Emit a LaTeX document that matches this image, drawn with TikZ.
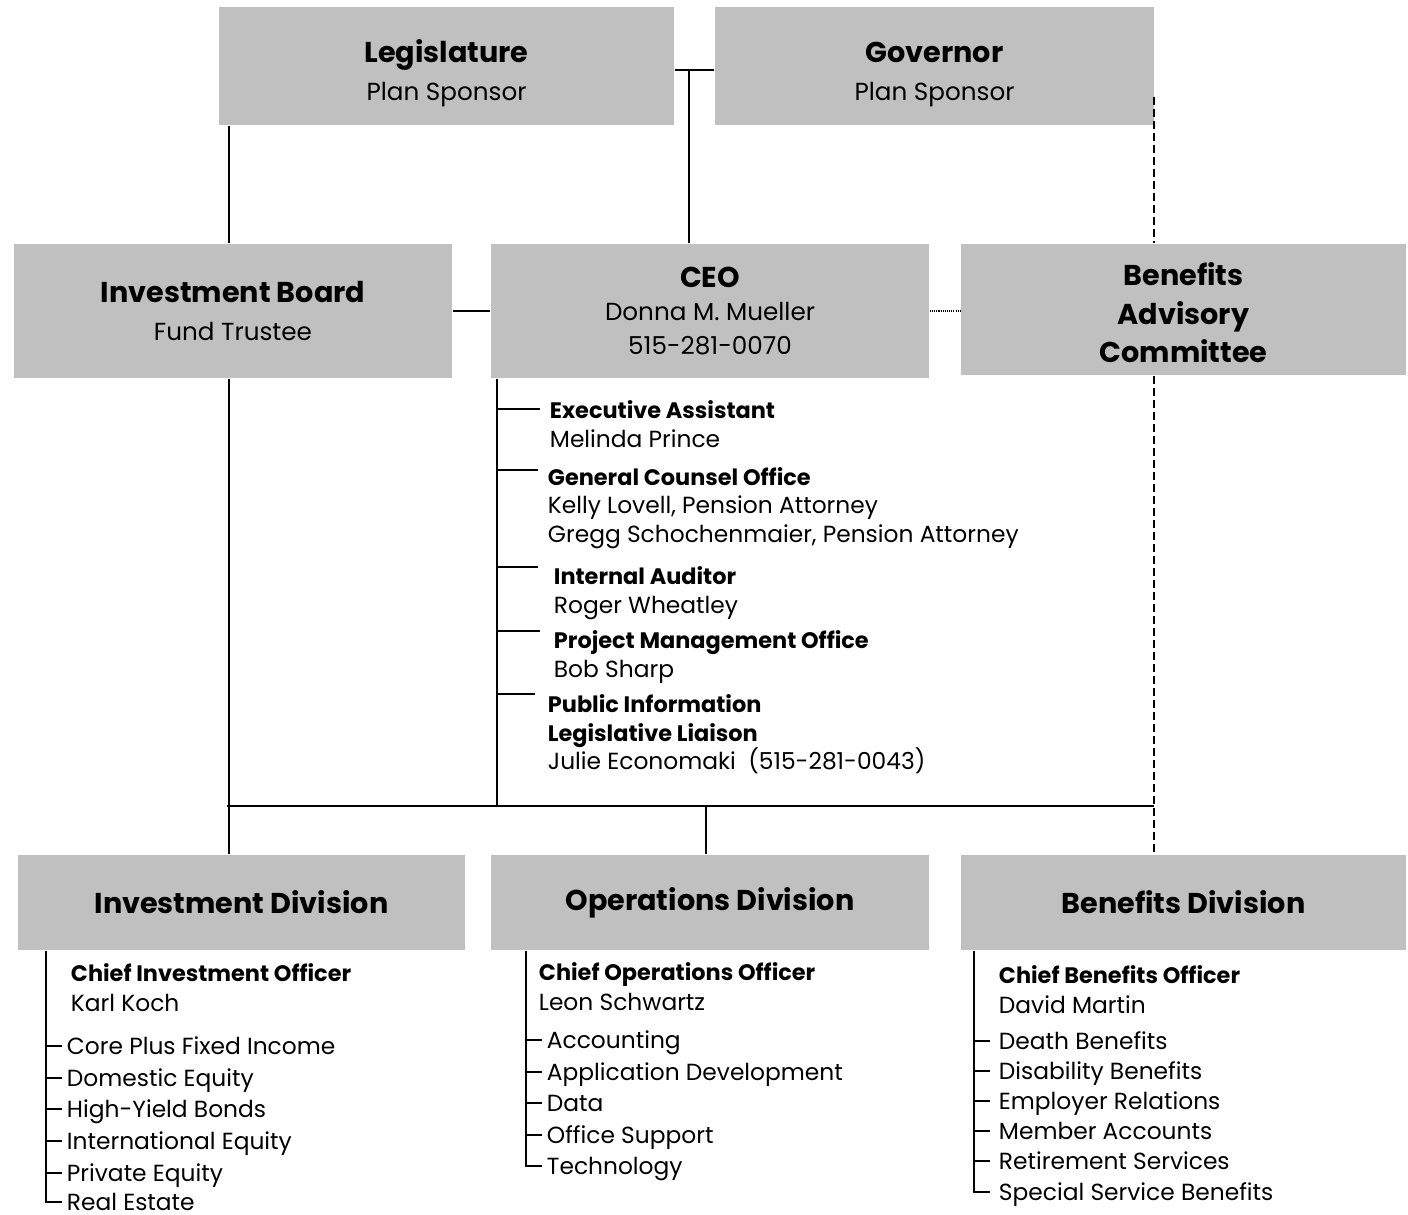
\documentclass[tikz,border=0pt]{standalone}
\usepackage{fontspec}
\setmainfont{Poppins}
\definecolor{boxgray}{HTML}{C0C0C0}
\newcommand\TitleF{\fontsize{21.5pt}{29pt}\selectfont\bfseries}
\newcommand\CeoF{\fontsize{21.5pt}{25pt}\selectfont\bfseries}
\newcommand\SubF{\fontsize{18.5pt}{29pt}\selectfont\mdseries}
\newcommand\ItemB{\fontsize{16.8pt}{20pt}\selectfont\bfseries}
\newcommand\ItemR{\fontsize{17.5pt}{20pt}\selectfont}
\newcommand\TopPad[1]{\rule{0pt}{#1}}
\begin{document}
\begin{tikzpicture}[x=0.75pt,y=-0.75pt, line width=1.4pt,
  gbox/.style={fill=boxgray, inner sep=0pt, align=center, font=\TitleF},
  stafft/.style={anchor=west, inner sep=0pt, text height=14pt, text depth=1pt, font=\ItemB},
  staffn/.style={anchor=west, inner sep=0pt, text height=14pt, text depth=1pt, font=\ItemR},
  item/.style={anchor=west, inner ysep=0pt, inner xsep=3pt, text height=14pt, text depth=1pt, font=\ItemR},
  dashline/.style={dash pattern=on 6pt off 3pt},
  dotline/.style={line width=1pt, dash pattern=on 0.8pt off 0.8pt}]
\useasboundingbox (0,0) rectangle (1408,1214);

% boxes
\node[gbox, minimum width=341.25pt, minimum height=88.5pt] (leg) at (446.5,66)
  {\TopPad{28pt}Legislature\\\SubF Plan Sponsor};
\node[gbox, minimum width=329.25pt, minimum height=88.5pt] (gov) at (934.5,66)
  {\TopPad{28pt}Governor\\\SubF Plan Sponsor};
\node[gbox, minimum width=328.5pt, minimum height=100.5pt] (ib) at (233,311)
  {Investment Board\\\SubF Fund Trustee};
\node[gbox, font=\CeoF, minimum width=328.5pt, minimum height=100.5pt] (ceo) at (710,311)
  {CEO\\\SubF Donna M. Mueller\\\SubF 515-281-0070};
\node[gbox, minimum width=333.75pt, minimum height=98.25pt] (bac) at (1183.5,309.5)
  {\TopPad{22pt}Benefits\\Advisory\\Committee};
\node[gbox, minimum width=335.25pt, minimum height=71.25pt] (idiv) at (241.5,902.5)
  {Investment Division};
\node[gbox, minimum width=328.5pt, minimum height=71.25pt] (odiv) at (710,902.5)
  {Operations Division};
\node[gbox, minimum width=333.75pt, minimum height=71.25pt] (bdiv) at (1183.5,902.5)
  {Benefits Division};

% coordinates
\coordinate (j1) at (689,70);
\coordinate (xl) at (229,0);
\coordinate (xc) at (497,0);
\coordinate (xo) at (706,0);
\coordinate (dtop) at (1154,97);
\coordinate (busL) at (227,806);
\coordinate (busR) at (1154,806);

% top connectors
\draw (leg.east |- j1) -- (gov.west |- j1);
\draw (j1) -- (j1 |- ceo.north);
\draw (xl |- leg.south) -- (xl |- ib.north);
\draw (ib.east) -- (ceo.west);
\draw[dotline] (ceo.east) -- (bac.west |- ceo.east);
\draw[dashline] (dtop) -- (dtop |- bac.north);
\draw[dashline] (dtop |- bac.south) -- (dtop |- bdiv.north);
\draw (busL) -- (busR);
\draw (xl |- ib.south) -- (xl |- idiv.north);
\draw (xc |- ceo.south) -- (xc |- busL);
\draw (xo |- busL) -- (xo |- odiv.north);

% CEO staff
\node[stafft] (ea) at (549,410) {Executive Assistant};
\node[staffn] (ean) at (549,439) {Melinda Prince};
\node[stafft] (gc) at (547,477) {General Counsel Office};
\node[staffn] (gcn1) at (547,505) {Kelly Lovell, Pension Attorney};
\node[staffn] (gcn2) at (547,534) {Gregg Schochenmaier, Pension Attorney};
\node[stafft] (ia) at (553,576) {Internal Auditor};
\node[staffn] (ian) at (553,605) {Roger Wheatley};
\node[stafft] (pm) at (553,640) {Project Management Office};
\node[staffn] (pmn) at (553,669) {Bob Sharp};
\node[stafft] (pi1) at (547,704) {Public Information};
\node[stafft] (pi2) at (547,733) {Legislative Liaison};
\node[staffn] (pin) at (547,761) {Julie Economaki\ \ (515-281-0043)};
\coordinate (bea) at (540,409);
\coordinate (bgc) at (538,470);
\coordinate (bia) at (538,567);
\coordinate (bpm) at (540,631);
\coordinate (bpi) at (535,694);
\foreach \b in {bea,bgc,bia,bpm,bpi} \draw (xc |- \b) -- (\b);

% Investment division list
\coordinate (xi) at (46,0);
\node[stafft] (cio) at (70,973) {Chief Investment Officer};
\node[staffn] (cion) at (70,1003) {Karl Koch};
\node[item] (i1) at (62,1046) {Core Plus Fixed Income};
\node[item] (i2) at (62,1078) {Domestic Equity};
\node[item] (i3) at (62,1109) {High-Yield Bonds};
\node[item] (i4) at (62,1141) {International Equity};
\node[item] (i5) at (62,1173) {Private Equity};
\node[item] (i6) at (62,1202) {Real Estate};
\draw (xi |- idiv.south) |- (i6.west);
\foreach \n in {i1,i2,i3,i4,i5} \draw (xi |- \n.west) -- (\n.west);

% Operations division list
\coordinate (xop) at (526,0);
\node[stafft] (coo) at (538,972) {Chief Operations Officer};
\node[staffn] (coon) at (538,1002) {Leon Schwartz};
\node[item] (o1) at (542,1040) {Accounting};
\node[item] (o2) at (542,1072) {Application Development};
\node[item] (o3) at (542,1103) {Data};
\node[item] (o4) at (542,1135) {Office Support};
\node[item] (o5) at (542,1166) {Technology};
\draw (xop |- odiv.south) |- (o5.west);
\foreach \n in {o1,o2,o3,o4} \draw (xop |- \n.west) -- (\n.west);

% Benefits division list
\coordinate (xb) at (974,0);
\node[stafft] (cbo) at (998,975) {Chief Benefits Officer};
\node[staffn] (cbon) at (998,1005) {David Martin};
\node[item, inner xsep=6pt] (b1) at (990,1041) {Death Benefits};
\node[item, inner xsep=6pt] (b2) at (990,1071) {Disability Benefits};
\node[item, inner xsep=6pt] (b3) at (990,1101) {Employer Relations};
\node[item, inner xsep=6pt] (b4) at (990,1131) {Member Accounts};
\node[item, inner xsep=6pt] (b5) at (990,1161) {Retirement Services};
\node[item, inner xsep=6pt] (b6) at (990,1192) {Special Service Benefits};
\draw (xb |- bdiv.south) |- (b6.west);
\foreach \n in {b1,b2,b3,b4,b5} \draw (xb |- \n.west) -- (\n.west);
\end{tikzpicture}
\end{document}
